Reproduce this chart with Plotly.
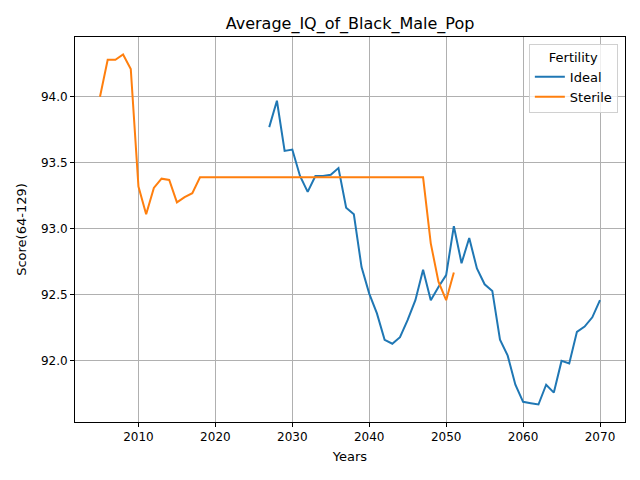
import plotly.graph_objects as go

# years and average IQ values
years_sterile = list(range(2005, 2052))
iq_sterile = [94.00, 94.28, 94.28, 94.32, 94.21, 93.32, 93.11, 93.31, 93.38, 93.37,
              93.20, 93.24, 93.27] + [93.39] * 30 + [92.89, 92.60, 92.46, 92.67]

years_ideal = list(range(2027, 2071))
iq_ideal = [93.77, 93.97, 93.59, 93.60, 93.40, 93.28, 93.40, 93.40, 93.41, 93.46,
            93.16, 93.11, 92.71, 92.51, 92.36, 92.16, 92.13, 92.18, 92.31, 92.46,
            92.69, 92.46, 92.56, 92.65, 93.02, 92.74, 92.93, 92.70, 92.58, 92.53,
            92.16, 92.04, 91.82, 91.69, 91.68, 91.67, 91.82, 91.76, 92.00, 91.98,
            92.22, 92.26, 92.33, 92.46]

x_ticks = [2010, 2020, 2030, 2040, 2050, 2060, 2070]
y_ticks = [92.0, 92.5, 93.0, 93.5, 94.0]

fig = go.Figure()
fig.add_trace(go.Scatter(x=years_ideal, y=iq_ideal, mode='lines', name='Ideal',
                         line=dict(color='#1f77b4', width=2)))
fig.add_trace(go.Scatter(x=years_sterile, y=iq_sterile, mode='lines', name='Sterile',
                         line=dict(color='#ff7f0e', width=2)))

axis_common = dict(showline=True, linecolor='black', linewidth=1, mirror=True,
                   showgrid=True, gridcolor='#b0b0b0', gridwidth=1,
                   ticks='outside', ticklen=4, tickcolor='black', zeroline=False,
                   automargin=False, tickfont=dict(size=12, color='black'))

# page body adds ~8px offset, margins compensate for it
fig.update_layout(
    width=640, height=480,
    paper_bgcolor='white', plot_bgcolor='white',
    font=dict(family='DejaVu Sans', color='black'),
    margin=dict(l=67, r=23, t=29, b=66),
    title=dict(text='Average_IQ_of_Black_Male_Pop', x=0.5, xref='paper', xanchor='center',
               y=1 - 15 / 480, yanchor='middle', font=dict(size=16), automargin=False),
    xaxis=dict(range=[2001.75, 2073.25], tickvals=x_ticks,
               title=dict(text='Years', font=dict(size=13), standoff=8), **axis_common),
    yaxis=dict(range=[91.5375, 94.4525], tickvals=y_ticks,
               tickformat='.1f',
               title=dict(text='Score(64-129)', font=dict(size=13), standoff=11), **axis_common),
    legend=dict(x=0.987, y=0.982, xanchor='right', yanchor='top',
                bordercolor='#d0d0d0', borderwidth=1, bgcolor='rgba(255,255,255,0.8)',
                title=dict(text='Fertility', side='top center', font=dict(size=13)),
                font=dict(size=13), tracegroupgap=0),
)

fig.write_html("out.html")
